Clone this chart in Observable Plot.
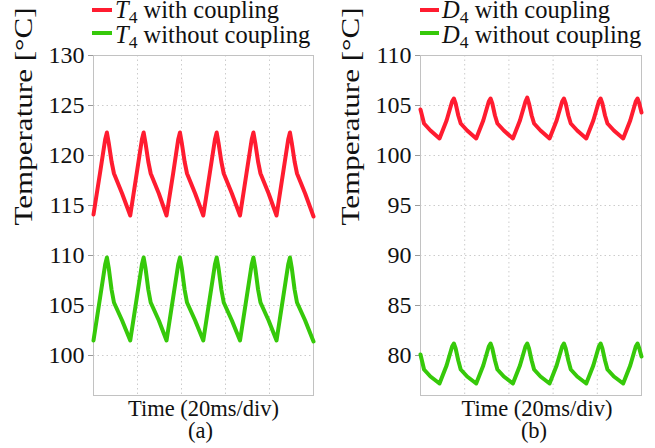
<!DOCTYPE html>
<html>
<head>
<meta charset="utf-8">
<script src="https://cdn.jsdelivr.net/npm/d3@7"></script>
<script src="https://cdn.jsdelivr.net/npm/@observablehq/plot@0.6"></script>
<style>
  html, body { margin: 0; padding: 0; background: #fff; }
  #wrap { position: relative; width: 655px; height: 448px; overflow: hidden; font-family: 'Liberation Serif'; }
  .panel { position: absolute; top: 0; }
  .sw { position: absolute; height: 4px; }
  .lbl { position: absolute; font-family: 'Liberation Serif'; font-size: 24.5px; line-height: 20px; white-space: nowrap; color: #111; }
  .lbl sub { font-size: 0.72em; vertical-align: -0.3em; line-height: 0; }
</style>
</head>
<body>
<div id="wrap"></div>
<script>
// ---- data ----
const leftTime = [
  0, 3.0, 5.3, 6.1, 6.9, 8.2, 9.3, 13.0,
  16.7, 19.7, 22.0, 22.8, 23.6, 24.9, 26.0, 29.7,
  33.2, 36.2, 38.5, 39.3, 40.1, 41.4, 42.5, 46.2,
  49.9, 52.9, 55.2, 56.0, 56.8, 58.1, 59.2, 62.9,
  66.6, 69.6, 71.9, 72.7, 73.5, 74.8, 75.9, 79.6,
  83.2, 86.2, 88.5, 89.3, 90.1, 91.4, 92.5, 96.2,
  100.0
];
const leftWith = [
  114.1, 118.3, 121.6, 122.3, 121.3, 119.4, 118.2, 116.2,
  114.0, 118.3, 121.6, 122.3, 121.3, 119.4, 118.2, 116.2,
  114.0, 118.2, 121.6, 122.3, 121.3, 119.4, 118.2, 116.2,
  114.0, 118.3, 121.6, 122.3, 121.3, 119.4, 118.2, 116.2,
  114.0, 118.3, 121.6, 122.3, 121.3, 119.4, 118.2, 116.2,
  114.0, 118.3, 121.6, 122.3, 121.3, 119.4, 118.2, 116.2,
  113.9
];
const leftWithout = [
  101.5, 105.8, 109.1, 109.8, 108.8, 106.6, 105.3, 103.5,
  101.5, 105.8, 109.1, 109.8, 108.8, 106.6, 105.3, 103.5,
  101.5, 105.8, 109.1, 109.8, 108.8, 106.6, 105.3, 103.5,
  101.5, 105.8, 109.1, 109.8, 108.8, 106.6, 105.3, 103.5,
  101.5, 105.8, 109.1, 109.8, 108.8, 106.6, 105.3, 103.5,
  101.5, 105.8, 109.1, 109.8, 108.8, 106.6, 105.3, 103.5,
  101.4
];
const rightTime = [
  0, 1.6, 4.5,
  8.6, 11.8, 14.3, 15.1, 15.9, 17.1, 18.2, 21.1,
  25.2, 28.4, 30.9, 31.7, 32.5, 33.7, 34.8, 37.7,
  41.8, 45.0, 47.5, 48.3, 49.1, 50.3, 51.4, 54.3,
  58.4, 61.6, 64.1, 64.9, 65.7, 66.9, 68.0, 70.9,
  75.0, 78.2, 80.7, 81.5, 82.3, 83.5, 84.6, 87.5,
  91.7, 94.9, 97.4, 98.2, 99.0, 100.0
];
const rightWith = [
  104.6, 103.2, 102.5,
  101.7, 103.5, 105.4, 105.7, 105.2, 104.0, 103.2, 102.5,
  101.7, 103.5, 105.4, 105.7, 105.2, 104.0, 103.2, 102.5,
  101.7, 103.5, 105.4, 105.8, 105.2, 104.0, 103.2, 102.5,
  101.7, 103.5, 105.4, 105.7, 105.2, 104.0, 103.2, 102.5,
  101.7, 103.5, 105.4, 105.7, 105.2, 104.0, 103.2, 102.5,
  101.7, 103.5, 105.4, 105.7, 105.2, 104.3
];
const rightWithout = [
  80.1, 78.6, 77.9,
  77.2, 79.0, 80.9, 81.2, 80.7, 79.5, 78.6, 77.9,
  77.2, 79.0, 80.9, 81.2, 80.7, 79.5, 78.6, 77.9,
  77.2, 79.0, 80.9, 81.2, 80.7, 79.5, 78.6, 77.9,
  77.2, 79.0, 80.9, 81.2, 80.7, 79.5, 78.6, 77.9,
  77.2, 79.0, 80.9, 81.2, 80.7, 79.5, 78.6, 77.9,
  77.2, 79.0, 80.9, 81.2, 80.7, 79.9
];
const leftTicks = [100, 105, 110, 115, 120, 125, 130];
const rightTicks = [80, 85, 90, 95, 100, 105, 110];
const timeGrid = [20, 40, 60, 80];
const leftNames = ["T", "with coupling", "without coupling"];
const rightNames = ["D", "with coupling", "without coupling"];

const RED = "#ff1c30";
const GREEN = "#36c90a";
const FONT = "Liberation Serif";

function panel({time, withC, withoutC, yDomain, yTicks, marginLeft, caption, capDx}) {
  const rows = time.map((t, i) => ({t, a: withC[i], b: withoutC[i]}));
  const svg = Plot.plot({
    width: 327,
    height: 448,
    marginLeft,
    marginRight: 14,
    marginTop: 55,
    marginBottom: 53,
    style: {fontFamily: FONT, background: "transparent", overflow: "visible"},
    x: {domain: [0, 100], axis: null},
    y: {domain: yDomain, axis: null},
    marks: [
      Plot.gridY(yTicks, {stroke: "#cccccc", strokeOpacity: 1, strokeDasharray: "1.5,3"}),
      Plot.gridX(timeGrid, {stroke: "#cccccc", strokeOpacity: 1, strokeDasharray: "1.5,3"}),
      Plot.frame({stroke: "#c2c2c2"}),
      Plot.axisY(yTicks, {anchor: "left", tickSize: 5, tickPadding: 4, fontSize: 24, stroke: "#9a9a9a", fill: "#111", label: null, fontFamily: FONT}),
      Plot.line(rows, {x: "t", y: "a", stroke: RED, strokeWidth: 4, curve: "linear", strokeLinejoin: "round", strokeLinecap: "round"}),
      Plot.line(rows, {x: "t", y: "b", stroke: GREEN, strokeWidth: 4, curve: "linear", strokeLinejoin: "round", strokeLinecap: "round"}),
      Plot.text(["Temperature [°C]"], {frameAnchor: "left", rotate: -90, dx: -70, fontSize: 25.5, fill: "#111", fontFamily: FONT, className: "ylab"}),
      Plot.text(["Time (20ms/div)"], {frameAnchor: "bottom", lineAnchor: "bottom", dy: 20, dx: capDx, fontSize: 22.5, fill: "#111", fontFamily: FONT}),
      Plot.text([caption], {frameAnchor: "bottom", lineAnchor: "bottom", dy: 42, dx: capDx - 3, fontSize: 22.5, fill: "#111", fontFamily: FONT})
    ]
  });
  // the reference's y label is drawn slightly wider than its glyph height suggests
  svg.querySelectorAll(".ylab text").forEach((t) => {
    t.setAttribute("textLength", "218");
    t.setAttribute("lengthAdjust", "spacingAndGlyphs");
  });
  return svg;
}

const wrap = document.getElementById("wrap");

const left = panel({time: leftTime, withC: leftWith, withoutC: leftWithout, yDomain: [96, 130], yTicks: leftTicks, marginLeft: 93, caption: "(a)", capDx: 0});
left.classList.add("panel");
left.style.left = "0px";
wrap.appendChild(left);

const right = panel({time: rightTime, withC: rightWith, withoutC: rightWithout, yDomain: [76, 110], yTicks: rightTicks, marginLeft: 92, caption: "(b)", capDx: 6});
right.classList.add("panel");
right.style.left = "328px";
wrap.appendChild(right);

function legend(x0, swW, names) {
  const items = [[names[1], RED, 0], [names[2], GREEN, 1]];
  for (const [txt, color, i] of items) {
    const sw = document.createElement("div");
    sw.className = "sw";
    sw.style.left = x0 + "px";
    sw.style.width = swW + "px";
    sw.style.top = (8 + i * 23) + "px";
    sw.style.background = color;
    wrap.appendChild(sw);
    const lb = document.createElement("div");
    lb.className = "lbl";
    lb.style.left = (x0 + swW + 3) + "px";
    lb.style.top = (0 + i * 25) + "px";
    lb.innerHTML = "<i>" + names[0] + "</i><sub>4</sub> " + txt;
    wrap.appendChild(lb);
  }
}
legend(92, 20, leftNames);
legend(420, 19, rightNames);
</script>
</body>
</html>
